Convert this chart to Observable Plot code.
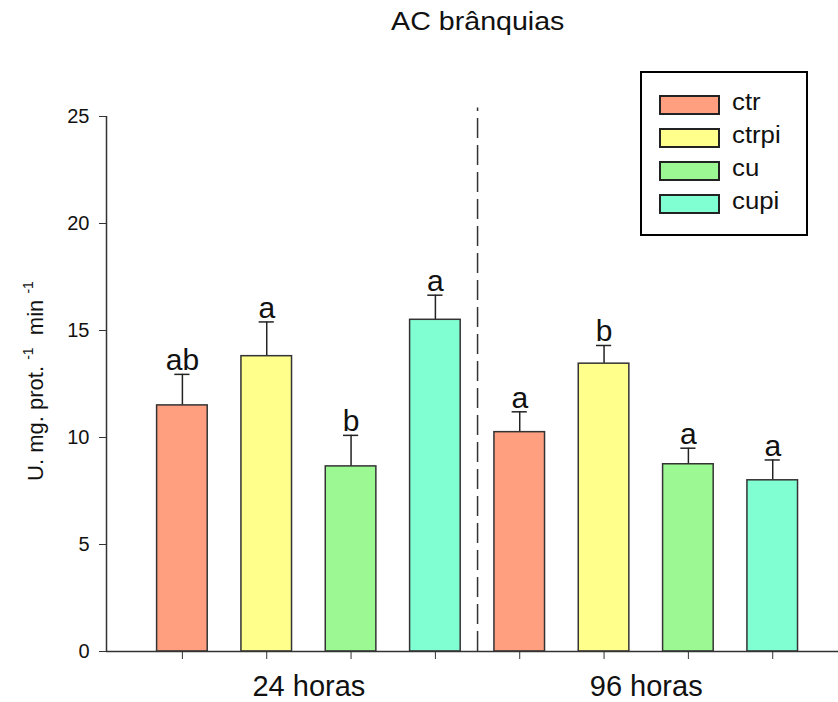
<!DOCTYPE html>
<html>
<head>
<meta charset="utf-8">
<script src="https://cdn.jsdelivr.net/npm/d3@7"></script>
<script src="https://cdn.jsdelivr.net/npm/@observablehq/plot@0.6"></script>
<style>
  body { margin: 0; background: #fff; font-family: "Liberation Sans", Arial, sans-serif; }
  #wrap { position: relative; width: 838px; height: 702px; }
  #title { position: absolute; left: 0; width: 956px; top: 6px; text-align: center; font-size: 26px; color: #111; }
  #title span { display: inline-block; transform: scaleX(1.1); }
  #legend { position: absolute; left: 640px; top: 71px; width: 164px; height: 161px; border: 2px solid #000; background: #fff; }
  .lrow { position: absolute; left: 17px; height: 20px; }
  .lsw { position: absolute; left: 0; top: 0; width: 57px; height: 16px; border: 2px solid #222; }
  .ltx { position: absolute; left: 73px; top: -6px; font-size: 23px; color: #111; transform: scaleX(1.12); transform-origin: left center; }
</style>
</head>
<body>
<div id="wrap">
  <div id="title"><span>AC brânquias</span></div>
  <div id="chart"></div>
  <div id="legend"></div>
</div>
<script>
const groups = ["24 horas", "96 horas"];
const treatments = ["ctr", "ctrpi", "cu", "cupi"];
const colors = ["#ff9f80", "#ffff8c", "#9cf892", "#80ffd2"];
const means24 = [11.5, 13.8, 8.65, 15.5];
const errs24 = [1.45, 1.6, 1.45, 1.15];
const letters24 = ["ab", "a", "b", "a"];
const means96 = [10.25, 13.45, 8.75, 8.0];
const errs96 = [0.95, 0.85, 0.75, 0.95];
const letters96 = ["a", "b", "a", "a"];
const yTicks = [0, 5, 10, 15, 20, 25];

const xDomain = [0.1, 8.78];
const halfBar = 0.3;
const halfCap = 0.09;

const rows = [];
[[means24, errs24, letters24], [means96, errs96, letters96]].forEach(([m, e, l], g) => {
  treatments.forEach((t, i) => {
    rows.push({group: groups[g], treatment: t, pos: g * 4 + i + 1, mean: m[i], err: e[i], letter: l[i], color: colors[i]});
  });
});
const barPositions = rows.map(d => d.pos);
const groupCenters = groups.map(g => d3.mean(rows.filter(d => d.group === g), d => d.pos));
const divider = [d3.mean([rows[3].pos, rows[4].pos])];

const chart = Plot.plot({
  width: 838,
  height: 702,
  marginTop: 116,
  marginBottom: 51,
  marginLeft: 106,
  marginRight: 0,
  style: {fontFamily: "'Liberation Sans', Arial, sans-serif", color: "#222", background: "#fff"},
  x: {type: "linear", domain: xDomain, axis: null},
  y: {domain: [0, 25], axis: null},
  marks: [
    Plot.ruleX(divider, {y1: 0, y2: 25.4, stroke: "#333", strokeWidth: 1.5, strokeDasharray: "20,7"}),
    Plot.ruleX(rows, {x: "pos", y1: "mean", y2: d => d.mean + d.err, stroke: "#222", strokeWidth: 1.5}),
    Plot.ruleY(rows, {y: d => d.mean + d.err, x1: d => d.pos - halfCap, x2: d => d.pos + halfCap, stroke: "#222", strokeWidth: 1.5}),
    Plot.rectY(rows, {x1: d => d.pos - halfBar, x2: d => d.pos + halfBar, y1: 0, y2: "mean", fill: "color", stroke: "#333", strokeWidth: 1.5}),
    Plot.text(rows, {x: "pos", y: d => d.mean + d.err, text: "letter", dy: -4, lineAnchor: "bottom", fontSize: 30, fill: "#111"}),
    Plot.ruleX([xDomain[0]], {stroke: "#333", strokeWidth: 1.5}),
    Plot.ruleY([0], {stroke: "#333", strokeWidth: 1.5}),
    Plot.axisY(yTicks, {tickSize: 7, tickPadding: 10, fontSize: 20, label: null, stroke: "#333", fill: "#111"}),
    Plot.axisX(barPositions, {tickSize: 8, tickFormat: () => "", label: null, stroke: "#333"}),
    Plot.axisX(groupCenters, {tickSize: 0, tickPadding: 24, fontSize: 29, label: null, tickFormat: (d, i) => groups[i], fill: "#111"})
  ]
});
document.getElementById("chart").appendChild(chart);

// y-axis label with superscripts
const lab = d3.select(chart).append("text")
  .attr("transform", "translate(43,381) rotate(-90)")
  .attr("text-anchor", "middle")
  .attr("font-size", 22)
  .attr("fill", "#111");
lab.append("tspan").text("U. mg. prot. ");
lab.append("tspan").attr("dy", -10).attr("font-size", 14).text("-1");
lab.append("tspan").attr("dy", 10).text("  min ");
lab.append("tspan").attr("dy", -10).attr("font-size", 14).text("-1");

// legend
const legend = d3.select("#legend");
treatments.forEach((t, i) => {
  const row = legend.append("div").attr("class", "lrow").style("top", (22 + i * 33) + "px");
  row.append("div").attr("class", "lsw").style("background", colors[i]);
  row.append("div").attr("class", "ltx").text(t);
});
</script>
</body>
</html>
